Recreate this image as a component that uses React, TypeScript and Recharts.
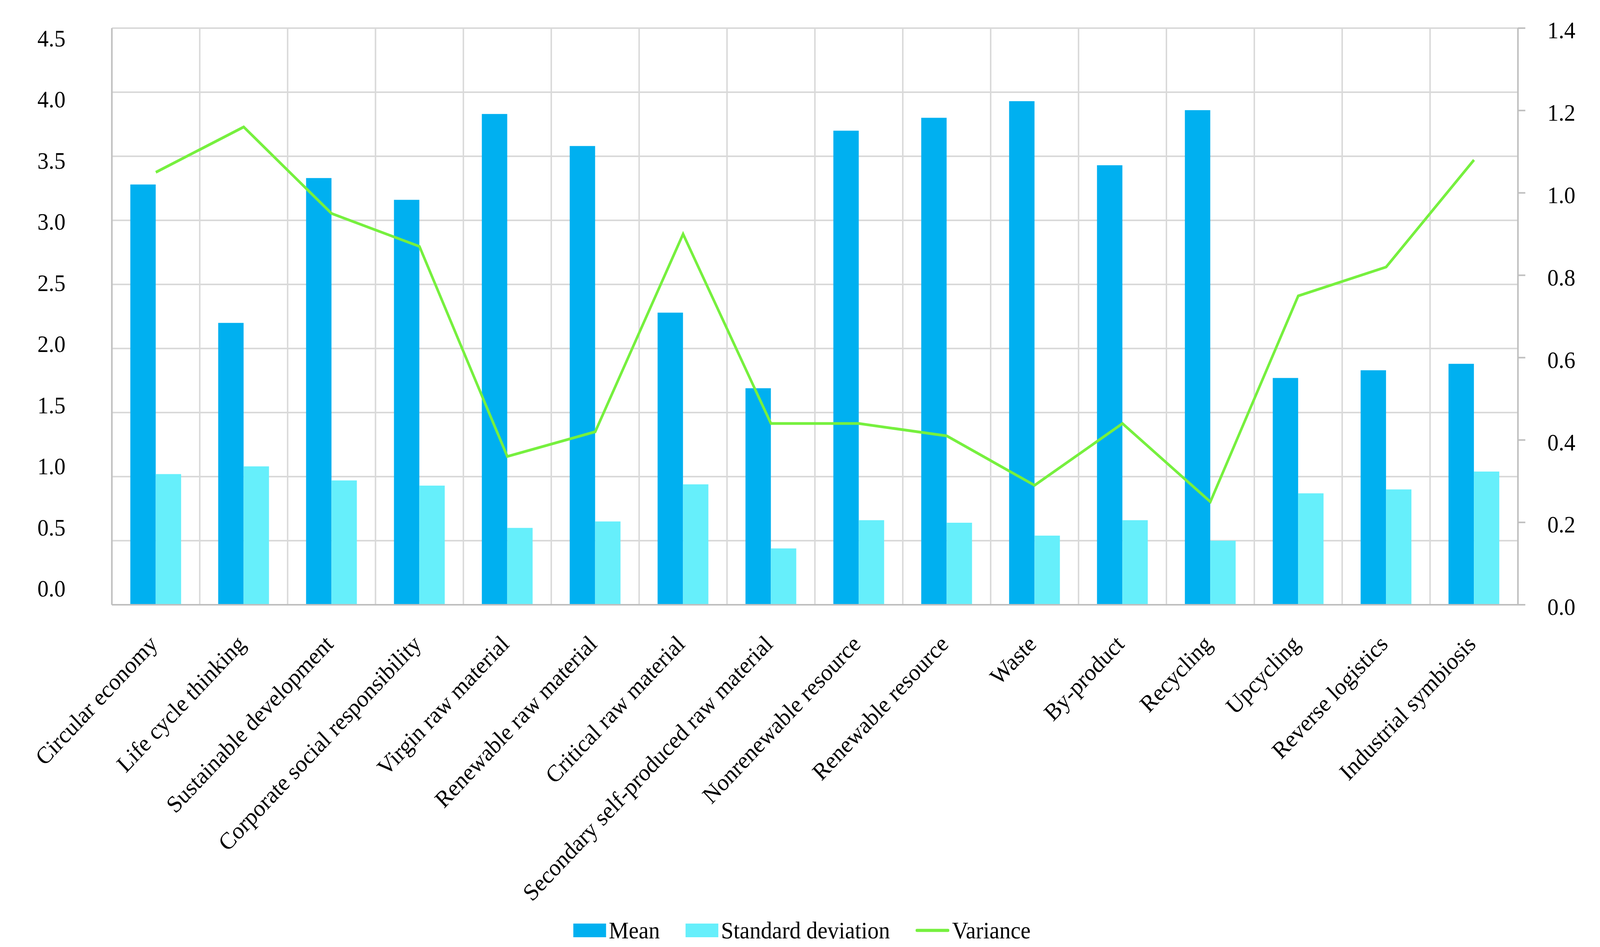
import { ComposedChart, Bar, Line, XAxis, YAxis, CartesianGrid, Legend } from 'recharts';

const categories = [
  'Circular economy',
  'Life cycle thinking',
  'Sustainable development',
  'Corporate social responsibility',
  'Virgin raw material',
  'Renewable raw material',
  'Critical raw material',
  'Secondary self-produced raw material',
  'Nonrenewable resource',
  'Renewable resource',
  'Waste',
  'By-product',
  'Recycling',
  'Upcycling',
  'Reverse logistics',
  'Industrial symbiosis',
];

const meanValues = [3.28, 2.2, 3.33, 3.16, 3.83, 3.58, 2.28, 1.69, 3.7, 3.8, 3.93, 3.43, 3.86, 1.77, 1.83, 1.88];
const stdValues = [1.02, 1.08, 0.97, 0.93, 0.6, 0.65, 0.94, 0.44, 0.66, 0.64, 0.54, 0.66, 0.5, 0.87, 0.9, 1.04];
const varianceValues = [1.05, 1.16, 0.95, 0.87, 0.36, 0.42, 0.9, 0.44, 0.44, 0.41, 0.29, 0.44, 0.25, 0.75, 0.82, 1.08];

const leftTicks = [0, 0.5, 1, 1.5, 2, 2.5, 3, 3.5, 4, 4.5];
const rightTicks = [0, 0.2, 0.4, 0.6, 0.8, 1, 1.2, 1.4];

const data = categories.map((name, i) => ({
  name,
  mean: meanValues[i],
  std: stdValues[i],
  variance: varianceValues[i],
}));

// the page is only 4096px wide, so the 4348px layout is squeezed to fit
const CHART_W = 4348;
const CHART_H = 2424;
const FIT = 4096 / CHART_W;

const FONT = '"Liberation Serif", "Times New Roman", serif';
const FONT_SIZE = 61;
const GRID = '#D9D9D9';
const AXIS = '#BFBFBF';

// left labels in the source drift a little against the gridlines
function LeftTick({ x, y, payload }: any) {
  const v = Number(payload.value);
  const drift = -42 + 15 * v;
  return (
    <text x={x} y={y + drift} dy="0.35em" textAnchor="end" fontFamily={FONT} fontSize={FONT_SIZE} fill="#000">
      {v.toFixed(1)}
    </text>
  );
}

function RightTick({ x, y, payload }: any) {
  return (
    <text x={x} y={y + 5} dy="0.35em" textAnchor="start" fontFamily={FONT} fontSize={FONT_SIZE} fill="#000">
      {Number(payload.value).toFixed(1)}
    </text>
  );
}

function CategoryTick({ x, y, payload }: any) {
  const ax = x + 8;
  const ay = y + 104;
  return (
    <text
      x={ax}
      y={ay}
      transform={`rotate(-45, ${ax}, ${ay})`}
      textAnchor="end"
      fontFamily={FONT}
      fontSize={FONT_SIZE}
      fill="#000"
    >
      {payload.value}
    </text>
  );
}

function LegendContent({ payload }: any) {
  return (
    <div
      style={{
        display: 'flex',
        justifyContent: 'center',
        alignItems: 'center',
        height: '100%',
        paddingLeft: 11,
        fontFamily: FONT,
        fontSize: FONT_SIZE,
        color: '#000',
      }}
    >
      {(payload || []).map((entry: any, i: number) => (
        <div key={entry.value} style={{ display: 'flex', alignItems: 'center', marginLeft: i ? 70 : 0 }}>
          {entry.type === 'line' ? (
            <svg width={92} height={35}>
              <line x1={4} x2={88} y1={17.5} y2={17.5} stroke={entry.color} strokeWidth={8} strokeLinecap="round" />
            </svg>
          ) : (
            <div style={{ width: 89, height: 35, background: entry.color }} />
          )}
          <span style={{ marginLeft: 7, lineHeight: 1 }}>{entry.value}</span>
        </div>
      ))}
    </div>
  );
}

export default function App() {
  return (
    <div
      style={{
        position: 'absolute',
        left: 0,
        top: 0,
        width: CHART_W,
        height: CHART_H,
        background: '#fff',
        transform: `scaleX(${FIT})`,
        transformOrigin: '0 0',
      }}
    >
      <ComposedChart
        width={CHART_W}
        height={CHART_H}
        data={data}
        margin={{ top: 72, right: 0, bottom: 0, left: 0 }}
        barCategoryGap="21%"
        barGap={0}
      >
        <CartesianGrid
          yAxisId="left"
          stroke={GRID}
          strokeWidth={4}
          verticalCoordinatesGenerator={({ offset }: any) =>
            Array.from({ length: categories.length + 1 }, (_, i) => offset.left + (i * offset.width) / categories.length)
          }
        />
        <XAxis
          dataKey="name"
          interval={0}
          height={876}
          tickLine={false}
          tickSize={0}
          tickMargin={0}
          axisLine={{ stroke: AXIS, strokeWidth: 4 }}
          tick={CategoryTick}
        />
        <YAxis
          yAxisId="left"
          width={304}
          domain={[0, 4.5]}
          ticks={leftTicks}
          interval={0}
          tickLine={false}
          tickSize={0}
          tickMargin={126}
          axisLine={{ stroke: AXIS, strokeWidth: 4 }}
          tick={LeftTick}
        />
        <YAxis
          yAxisId="right"
          orientation="right"
          width={223}
          domain={[0, 1.4]}
          ticks={rightTicks}
          interval={0}
          tickSize={20}
          tickMargin={60}
          tickLine={{ stroke: AXIS, strokeWidth: 4 }}
          axisLine={{ stroke: AXIS, strokeWidth: 4 }}
          tick={RightTick}
        />
        <Bar yAxisId="left" dataKey="mean" name="Mean" fill="#00B0F0" isAnimationActive={false} />
        <Bar yAxisId="left" dataKey="std" name="Standard deviation" fill="#66EFFB" isAnimationActive={false} />
        <Line
          yAxisId="right"
          type="linear"
          dataKey="variance"
          name="Variance"
          stroke="#76F03E"
          strokeWidth={7}
          dot={false}
          activeDot={false}
          isAnimationActive={false}
        />
        <Legend
          layout="horizontal"
          verticalAlign="middle"
          align="center"
          wrapperStyle={{ top: 2345, left: 0, width: CHART_W, height: 72 }}
          content={LegendContent}
        />
      </ComposedChart>
    </div>
  );
}
